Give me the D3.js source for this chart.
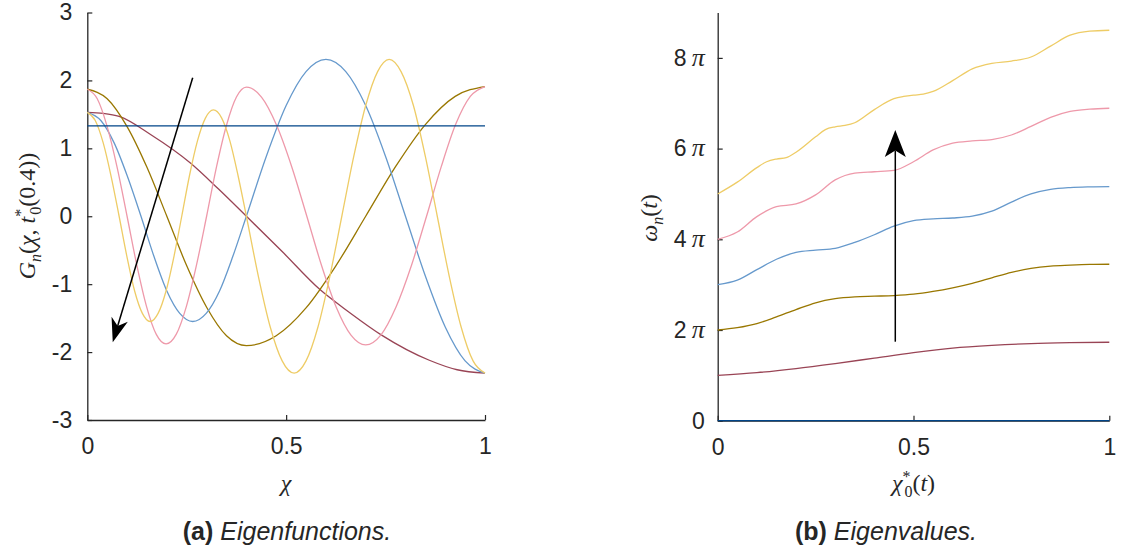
<!DOCTYPE html>
<html><head><meta charset="utf-8">
<script src="https://cdn.jsdelivr.net/npm/d3@7"></script>
<style>
body{margin:0;background:#fff}
svg{display:block}
text{font-family:"Liberation Sans",Arial,sans-serif;fill:#262626}
.math{font-family:"Liberation Serif","Times New Roman",serif;font-style:italic}
</style></head><body>
<svg id="chart" width="1121" height="556"></svg>
<script>
// Paul Tol "medium contrast" palette, mode n = 0..5
const modeColors = ["#004488", "#994455", "#997700", "#6699CC", "#EE99AA", "#EECC66"];

// ---- (a) eigenfunctions G_n(chi) ----
const chiG0 = [0, 1];
const g0 = [1.33, 1.33];
const chiG1 = [0, 0.04, 0.08, 0.16, 0.26, 0.33, 0.40, 0.49, 0.585, 0.66, 0.74, 0.86, 0.93, 1];
const g1 = [1.53, 1.515, 1.47, 1.20, 0.78, 0.40, 0.0, -0.52, -1.08, -1.42, -1.75, -2.12, -2.26, -2.31];
const chiG2 = [0, 0.05, 0.10, 0.15, 0.20, 0.25, 0.30, 0.35, 0.40, 0.475, 0.55, 0.625, 0.70, 0.775, 0.85, 0.925, 1];
const g2 = [1.87, 1.73, 1.32, 0.72, 0, -0.73, -1.34, -1.76, -1.905, -1.76, -1.35, -0.73, 0, 0.73, 1.35, 1.765, 1.91];
const chiG3 = [0, 0.034, 0.0675, 0.101, 0.135, 0.1675, 0.20, 0.2325, 0.265, 0.299, 0.3325, 0.366, 0.40, 0.45, 0.50, 0.55, 0.60, 0.65, 0.70, 0.75, 0.80, 0.85, 0.90, 0.95, 1];
const g3 = [1.53, 1.41, 1.08, 0.585, 0, -0.59, -1.10, -1.43, -1.55, -1.43, -1.10, -0.59, 0, 0.88, 1.63, 2.13, 2.31, 2.13, 1.63, 0.88, 0, -0.88, -1.63, -2.13, -2.31];
const chiG4 = [0, 0.025, 0.05, 0.075, 0.10, 0.1245, 0.149, 0.1735, 0.198, 0.2235, 0.249, 0.2745, 0.30, 0.325, 0.35, 0.375, 0.40, 0.438, 0.476, 0.514, 0.552, 0.589, 0.626, 0.663, 0.70, 0.738, 0.776, 0.815, 0.853, 0.89, 0.926, 0.963, 1];
const g4 = [1.87, 1.73, 1.32, 0.72, 0, -0.72, -1.33, -1.74, -1.88, -1.74, -1.33, -0.72, 0, 0.73, 1.34, 1.755, 1.90, 1.755, 1.34, 0.73, 0, -0.725, -1.34, -1.75, -1.895, -1.75, -1.34, -0.725, 0, 0.73, 1.35, 1.765, 1.91];
const chiG5 = [0, 0.02, 0.04, 0.06, 0.08, 0.0995, 0.119, 0.1385, 0.158, 0.178, 0.198, 0.218, 0.2375, 0.257, 0.277, 0.297, 0.317, 0.338, 0.3585, 0.379, 0.40, 0.43, 0.46, 0.49, 0.52, 0.55, 0.58, 0.61, 0.64, 0.67, 0.70, 0.73, 0.759, 0.789, 0.82, 0.85, 0.88, 0.91, 0.94, 0.97, 1];
const g5 = [1.53, 1.41, 1.08, 0.585, 0, -0.59, -1.10, -1.43, -1.55, -1.43, -1.10, -0.59, 0, 0.60, 1.11, 1.445, 1.565, 1.445, 1.11, 0.60, 0, -0.88, -1.63, -2.13, -2.31, -2.13, -1.63, -0.88, 0, 0.88, 1.63, 2.13, 2.31, 2.13, 1.63, 0.88, 0, -0.88, -1.63, -2.13, -2.31];
const leftXTicks = [0, 0.5, 1];
const leftYTicks = [-3, -2, -1, 0, 1, 2, 3];
const leftArrow = [[0.265, 2.04], [0.064, -1.856]];   // tail, head (chi, G)

// ---- (b) eigenvalues omega_n / pi ----
const chiW0 = [0, 1];
const w0 = [0, 0];
const chiW1 = [0, 0.1, 0.2, 0.3, 0.4, 0.5, 0.6, 0.7, 0.8, 0.9, 1];
const w1 = [1.0, 1.06, 1.15, 1.26, 1.38, 1.50, 1.60, 1.66, 1.70, 1.72, 1.73];
const chiW2 = [0, 0.05, 0.1, 0.15, 0.2, 0.25, 0.3, 0.35, 0.4, 0.45, 0.5, 0.55, 0.6, 0.65, 0.7, 0.75, 0.8, 0.85, 0.9, 0.95, 1];
const w2 = [2.0, 2.05, 2.14, 2.29, 2.45, 2.60, 2.69, 2.73, 2.745, 2.76, 2.79, 2.85, 2.93, 3.03, 3.15, 3.27, 3.36, 3.41, 3.43, 3.445, 3.45];
const chiW3 = [0, 0.05, 0.1, 0.15, 0.2, 0.25, 0.3, 0.35, 0.4, 0.45, 0.5, 0.55, 0.6, 0.65, 0.7, 0.75, 0.8, 0.85, 0.9, 0.95, 1];
const w3 = [3.0, 3.10, 3.33, 3.56, 3.71, 3.76, 3.80, 3.93, 4.10, 4.29, 4.41, 4.45, 4.47, 4.51, 4.62, 4.82, 5.00, 5.10, 5.14, 5.155, 5.16];
const chiW4 = [0, 0.05, 0.1, 0.15, 0.2, 0.25, 0.3, 0.35, 0.4, 0.45, 0.5, 0.55, 0.6, 0.65, 0.7, 0.75, 0.8, 0.85, 0.9, 0.95, 1];
const w4 = [4.0, 4.16, 4.50, 4.72, 4.78, 4.98, 5.31, 5.46, 5.49, 5.52, 5.71, 5.97, 6.12, 6.17, 6.20, 6.30, 6.49, 6.69, 6.82, 6.87, 6.89];
const chiW5 = [0, 0.05, 0.1, 0.125, 0.15, 0.175, 0.2, 0.25, 0.275, 0.3, 0.325, 0.35, 0.4, 0.45, 0.475, 0.5, 0.525, 0.55, 0.6, 0.65, 0.7, 0.75, 0.8, 0.85, 0.9, 0.95, 1];
const w5 = [5.0, 5.26, 5.58, 5.71, 5.77, 5.80, 5.92, 6.26, 6.42, 6.48, 6.51, 6.57, 6.86, 7.10, 7.15, 7.18, 7.20, 7.26, 7.50, 7.76, 7.88, 7.93, 8.02, 8.26, 8.50, 8.59, 8.61];
const rightXTicks = [0, 0.5, 1];
const rightYTicks = [0, 2, 4, 6, 8];           // multiples of pi
const rightArrow = [[0.4535, 1.742], [0.4535, 6.41]];

const svg = d3.select("#chart");
const axisColor = "#262626";
const tickFont = "23px";

const xa = d3.scaleLinear([0, 1], [87.3, 485]);
const ya = d3.scaleLinear([-3, 3], [420, 12.5]);
const xb = d3.scaleLinear([0, 1], [717.7, 1109.3]);
const yb = d3.scaleLinear([0, 9], [420.7, 12.55]);

function styleAxis(g) {
  g.select(".domain").attr("stroke", axisColor).attr("stroke-width", 1.3);
  g.selectAll(".tick line").attr("stroke", axisColor).attr("stroke-width", 1.2);
  g.selectAll(".tick text").attr("fill", axisColor).style("font-size", tickFont)
    .style("font-family", '"Liberation Sans",Arial,sans-serif');
}

function drawSeries(g, xs, ys, chi, val, color) {
  const pts = chi.map((c, i) => [c, val[i]]);
  g.append("path").datum(pts)
    .attr("fill", "none").attr("stroke", color).attr("stroke-width", 1.3)
    .attr("d", d3.line().x(d => xs(d[0])).y(d => ys(d[1])).curve(d3.curveMonotoneX));
}

function drawArrow(g, p0, p1, L, W, notch) {
  const [x0, y0] = p0, [x1, y1] = p1;
  const dx = x1 - x0, dy = y1 - y0, len = Math.hypot(dx, dy);
  const ux = dx / len, uy = dy / len, nx = -uy, ny = ux;
  const bx = x1 - ux * L, by = y1 - uy * L;
  const mx = x1 - ux * (L - notch), my = y1 - uy * (L - notch);
  g.append("line").attr("x1", x0).attr("y1", y0).attr("x2", mx).attr("y2", my)
    .attr("stroke", "#000").attr("stroke-width", 1.5);
  g.append("path")
    .attr("d", `M${x1},${y1}L${bx + nx * W / 2},${by + ny * W / 2}L${mx},${my}L${bx - nx * W / 2},${by - ny * W / 2}Z`)
    .attr("fill", "#000");
}

// writes a run of math segments into a text element: [text, style, shift, dx]
function mathText(textSel, parts) {
  let cur = 0;
  parts.forEach(p => {
    const [t, st, shift, dx] = p;
    const target = shift === "sub" ? 6 : shift === "sup" ? -9 : 0;
    const ts = textSel.append("tspan").text(t).attr("dy", target - cur);
    if (dx) ts.attr("dx", dx);
    if (st === "i") ts.attr("class", "math");
    else ts.style("font-family", '"Liberation Serif","Times New Roman",serif').style("font-style", "normal");
    if (shift) ts.style("font-size", "16px");
    cur = target;
  });
}

// ---------- panel (a) ----------
const ga = svg.append("g");
ga.append("g").attr("transform", "translate(0,420)")
  .call(d3.axisBottom(xa).tickValues(leftXTicks).tickFormat(d3.format("")).tickSizeInner(-5).tickSizeOuter(0).tickPadding(18))
  .call(styleAxis);
ga.append("g").attr("transform", "translate(87.3,0)")
  .call(d3.axisLeft(ya).tickValues(leftYTicks).tickFormat(d => d < 0 ? "-" + Math.abs(d) : String(d)).tickSizeInner(-5).tickSizeOuter(0).tickPadding(15))
  .call(styleAxis);

const seriesA = [[chiG1, g1], [chiG2, g2], [chiG3, g3], [chiG4, g4], [chiG5, g5], [chiG0, g0]];
const colorIdx = [1, 2, 3, 4, 5, 0];
seriesA.forEach((s, i) => drawSeries(ga, xa, ya, s[0], s[1], modeColors[colorIdx[i]]));
drawArrow(ga, [xa(leftArrow[0][0]), ya(leftArrow[0][1])], [xa(leftArrow[1][0]), ya(leftArrow[1][1])], 24, 17, 7);

const xlabA = ga.append("text").attr("x", xa(0.5)).attr("y", 491).attr("text-anchor", "middle").style("font-size", "24px");
mathText(xlabA, [["χ", "i"]]);
const ylabA = ga.append("text").attr("transform", "translate(35,216) rotate(-90)").attr("text-anchor", "middle").style("font-size", "24px");
mathText(ylabA, [["G", "i"], ["n", "i", "sub"], ["(", "r"], ["χ", "i"], [", ", "r"], ["t", "i"], ["*", "r", "sup"], ["0", "r", "sub", -6], ["(0.4))", "r"]]);

const capA = ga.append("text").attr("x", 287).attr("y", 540).attr("text-anchor", "middle").style("font-size", "25px");
capA.append("tspan").text("(a)").style("font-weight", "bold");
capA.append("tspan").text(" Eigenfunctions.").style("font-style", "italic");

// ---------- panel (b) ----------
const gb = svg.append("g");
gb.append("g").attr("transform", "translate(0,420.7)")
  .call(d3.axisBottom(xb).tickValues(rightXTicks).tickFormat(d3.format("")).tickSizeInner(-5).tickSizeOuter(0).tickPadding(18))
  .call(styleAxis);
const yAxB = gb.append("g").attr("transform", "translate(717.7,0)")
  .call(d3.axisLeft(yb).tickValues(rightYTicks).tickSizeInner(-5).tickSizeOuter(0).tickPadding(13))
  .call(styleAxis);
yAxB.selectAll(".tick text").each(function (d) {
  const t = d3.select(this).text("");
  if (d === 0) { t.text("0"); return; }
  t.append("tspan").text(String(d));
  t.append("tspan").text("π").attr("dx", 5).style("font-size", "26px")
    .style("font-family", '"Liberation Serif","Times New Roman",serif').style("font-style", "italic");
});

const seriesB = [[chiW1, w1], [chiW2, w2], [chiW3, w3], [chiW4, w4], [chiW5, w5], [chiW0, w0]];
seriesB.forEach((s, i) => drawSeries(gb, xb, yb, s[0], s[1], modeColors[colorIdx[i]]));
drawArrow(gb, [xb(rightArrow[0][0]), yb(rightArrow[0][1])], [xb(rightArrow[1][0]), yb(rightArrow[1][1])], 27, 21, 6.5);

const xlabB = gb.append("text").attr("x", xb(0.5)).attr("y", 491).attr("text-anchor", "middle").style("font-size", "24px");
mathText(xlabB, [["χ", "i"], ["*", "r", "sup"], ["0", "r", "sub", -6], ["(", "r"], ["t", "i"], [")", "r"]]);
const ylabB = gb.append("text").attr("transform", "translate(657,218) rotate(-90)").attr("text-anchor", "middle").style("font-size", "24px");
mathText(ylabB, [["ω", "i"], ["n", "i", "sub"], ["(", "r"], ["t", "i"], [")", "r"]]);

const capB = gb.append("text").attr("x", 886).attr("y", 540).attr("text-anchor", "middle").style("font-size", "25px");
capB.append("tspan").text("(b)").style("font-weight", "bold");
capB.append("tspan").text(" Eigenvalues.").style("font-style", "italic");
</script>
</body></html>
